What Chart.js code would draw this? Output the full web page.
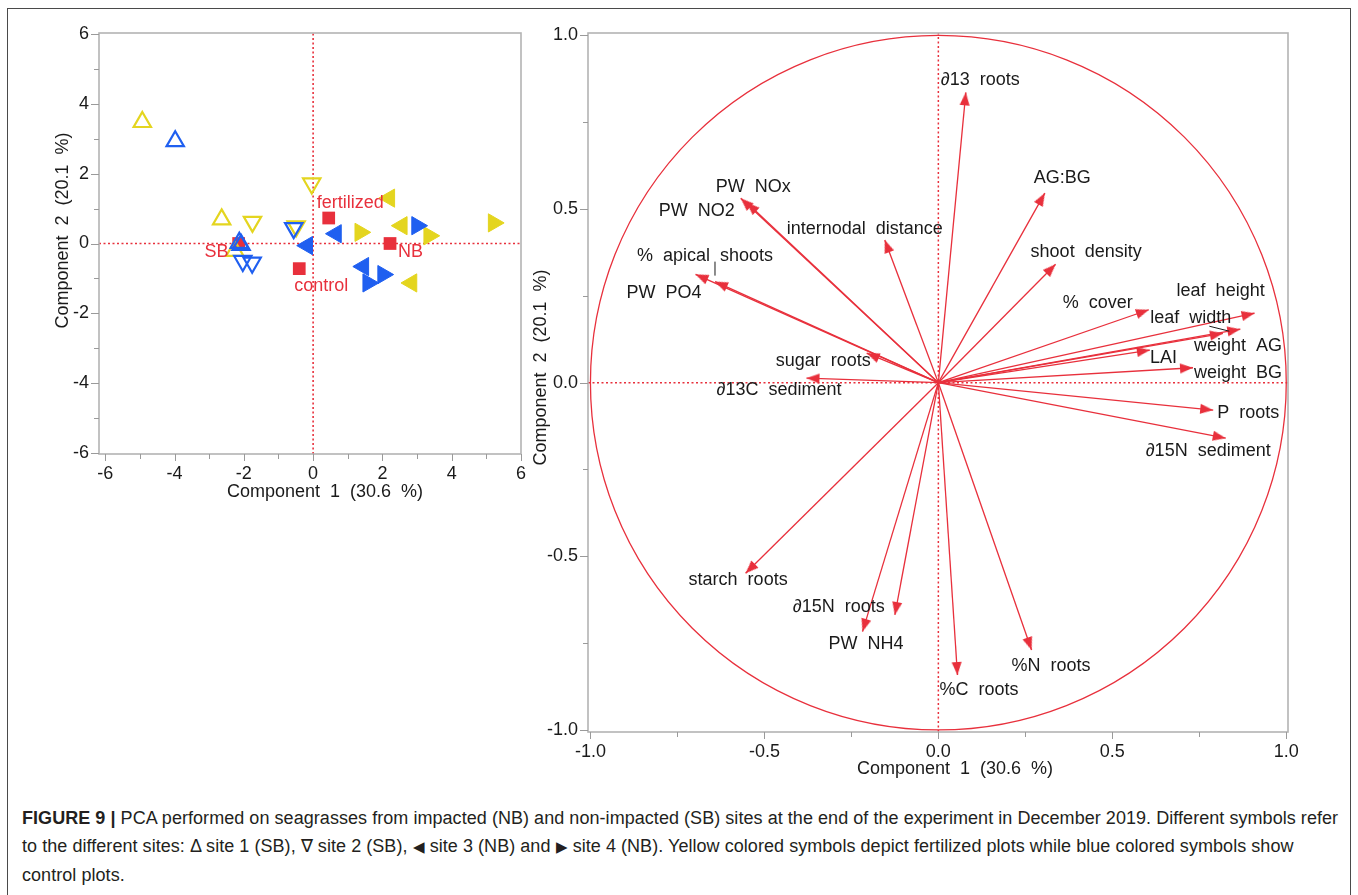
<!DOCTYPE html>
<html>
<head>
<meta charset="utf-8">
<script src="https://cdn.jsdelivr.net/npm/chart.js@4.4.1/dist/chart.umd.min.js"></script>
<style>
  body { margin: 0; background: #fff; width: 1358px; height: 895px; overflow: hidden;
         font-family: "Liberation Sans", Arial, sans-serif; }
  #frame { position: absolute; left: 7px; top: 8px; width: 1342px; height: 920px; border: 1.5px solid #4a4a4a; }
  #scoreCanvas { position: absolute; left: 0; top: 0; }
  #loadCanvas { position: absolute; left: 530px; top: 0; }
  #caption { position: absolute; left: 22px; top: 804px; font-size: 18px; line-height: 28px;
             color: #231f20; white-space: nowrap; letter-spacing: 0.05px; }
  #caption .sym { font-size: 15px; }
</style>
</head>
<body>
<div id="frame"></div>
<canvas id="scoreCanvas" width="540" height="510"></canvas>
<canvas id="loadCanvas" width="800" height="800"></canvas>
<div id="caption">
  <div><b>FIGURE 9 |</b> PCA performed on seagrasses from impacted (NB) and non-impacted (SB) sites at the end of the experiment in December 2019. Different symbols refer</div>
  <div>to the different sites: Δ site 1 (SB), ∇ site 2 (SB), <span class="sym">◀</span> site 3 (NB) and <span class="sym">▶</span> site 4 (NB). Yellow colored symbols depict fertilized plots while blue colored symbols show</div>
  <div>control plots.</div>
</div>
<script>
// ---- score plot (left): [component 1, component 2]
const site1Fert = [[-4.93, 3.48], [-2.64, 0.69], [-2.26, -0.21]];
const site1Ctrl = [[-3.98, 2.93], [-2.08, -0.04], [-2.13, 0.02]];
const site2Fert = [[-1.75, 0.62], [-0.49, 0.49], [-0.04, 1.72]];
const site2Ctrl = [[-2.03, -0.50], [-1.76, -0.55], [-0.56, 0.44]];
const site3Fert = [[2.20, 1.30], [2.56, 0.51], [2.84, -1.13]];
const site3Ctrl = [[-0.17, -0.06], [0.66, 0.28], [1.45, -0.66]];
const site4Fert = [[1.36, 0.32], [3.35, 0.22], [5.21, 0.59]];
const site4Ctrl = [[3.00, 0.51], [2.02, -0.89], [1.59, -1.13]];

const centroidNames = ['SB', 'control', 'fertilized', 'NB'];
const centroidX = [-2.15, -0.40, 0.45, 2.22];
const centroidY = [0.0, -0.72, 0.73, 0.0];

const scoreTicks = [-6, -4, -2, 0, 2, 4, 6];
const scoreMinor = [-5, -3, -1, 1, 3, 5];

// ---- loading plot (right)
const loadingNames = ['∂13 roots', 'AG:BG', 'PW NOx', 'PW NO2', 'internodal distance',
  '% apical shoots', 'PW PO4', 'sugar roots', '∂13C sediment', 'shoot density', '% cover',
  'leaf height', 'leaf width', 'weight AG', 'LAI', 'weight BG', 'P roots', '∂15N sediment',
  '%N roots', '%C roots', 'starch roots', '∂15N roots', 'PW NH4'];
const loadingPC1 = [0.079, 0.306, -0.568, -0.551, -0.154, -0.642, -0.698, -0.206, -0.379,
  0.337, 0.605, 0.909, 0.868, 0.818, 0.608, 0.732, 0.790, 0.826, 0.268, 0.055, -0.554, -0.125, -0.218];
const loadingPC2 = [0.836, 0.546, 0.531, 0.519, 0.411, 0.291, 0.312, 0.085, 0.013,
  0.341, 0.210, 0.200, 0.154, 0.142, 0.094, 0.043, -0.079, -0.160, -0.770, -0.842, -0.549, -0.669, -0.717];

const loadTicks = [-1, -0.5, 0, 0.5, 1];
const loadMinor = [-0.75, -0.25, 0.25, 0.75];

// ---- styling
const FONT = '"Liberation Sans", Arial, sans-serif';
const RED = '#e8303c', YELLOW = '#e4d51f', BLUE = '#1f5ff0', INK = '#1a1a1a';
const FRAME = '#b3b3b3';

// label placement relative to each arrow tip (px): [dx, dy]
const loadLabelOffsets = [[-25, -12], [-11, -15], [-25, -11], [-88, 9], [-98, -11],
  [-78, -26], [-69, 19], [-91, 8], [-90, 12], [-25, -12], [-86, -7],
  [-78, -22], [-90, -11], [-29, 13], [0, 8], [1, 5], [4, 3], [-80, 13],
  [-20, 16], [-18, 15], [-57, 7], [-102, -8], [-34, 12]];
// short leader lines [name, x1, y1, x2, y2] relative to the tip
const leaders = [['% apical shoots', 0, -20, 0, -6], ['leaf width', -31, -3, -11, 2]];
// centroid label [dx, dy, align]
const centroidLabelPos = [[-10, 9, 'right'], [-5, 17, 'left'], [-12, -15, 'left'], [8, 9, 'left']];

const pts = arr => arr.map(p => ({x: p[0], y: p[1]}));

function ticksFor(values) {
  return s => { s.ticks = values.map(v => ({value: v})); };
}

const decor = {
  id: 'decor',
  beforeDatasetsDraw(chart, args, o) {
    if (!o.circle) return;
    const {ctx, scales: {x, y}} = chart;
    const cx = x.getPixelForValue(0), cy = y.getPixelForValue(0);
    ctx.save();
    ctx.strokeStyle = RED;
    ctx.lineWidth = 1.3;
    ctx.beginPath();
    ctx.ellipse(cx, cy, x.getPixelForValue(1) - cx, cy - y.getPixelForValue(1), 0, 0, Math.PI * 2);
    ctx.stroke();
    ctx.restore();
  },
  afterDraw(chart, args, o) {
    const {ctx, chartArea: a, scales: {x, y}} = chart;
    ctx.save();
    ctx.strokeStyle = FRAME;
    ctx.lineWidth = 1.6;
    ctx.strokeRect(a.left, a.top, a.right - a.left, a.bottom - a.top);
    ctx.strokeStyle = '#9a9a9a';
    ctx.lineWidth = 1;
    const tick = (vals, len) => {
      vals.forEach(v => {
        const px = Math.round(x.getPixelForValue(v)) + 0.5;
        ctx.beginPath(); ctx.moveTo(px, a.bottom); ctx.lineTo(px, a.bottom + len); ctx.stroke();
      });
    };
    const ytick = (vals, len) => {
      vals.forEach(v => {
        const py = Math.round(y.getPixelForValue(v)) + 0.5;
        ctx.beginPath(); ctx.moveTo(a.left, py); ctx.lineTo(a.left - len, py); ctx.stroke();
      });
    };
    tick(o.xMajor, 7); tick(o.xMinor, 5);
    ytick(o.yMajor, 8); ytick(o.yMinor, 5);

    ctx.fillStyle = INK;
    ctx.font = '18px ' + FONT;
    ctx.textAlign = 'center';
    ctx.textBaseline = 'middle';
    ctx.fillText(o.xTitle, (a.left + a.right) / 2 + o.xTitleAt[0], a.bottom + o.xTitleAt[1]);
    ctx.translate(a.left + o.yTitleAt[0], (a.top + a.bottom) / 2 + o.yTitleAt[1]);
    ctx.rotate(-Math.PI / 2);
    ctx.fillText(o.yTitle, 0, 0);
    ctx.restore();
  }
};

const tickFont = {family: FONT, size: 18};

function axes(xr, yr, yWidth, xHeight, fmt, xMajor, yMajor) {
  return {
    x: {
      type: 'linear', min: xr[0], max: xr[1],
      grid: {display: false, drawTicks: false}, border: {display: false},
      afterBuildTicks: ticksFor(xMajor),
      afterFit: s => { s.height = xHeight; },
      ticks: {font: tickFont, color: INK, padding: 9, maxRotation: 0, autoSkip: false, callback: fmt}
    },
    y: {
      type: 'linear', min: yr[0], max: yr[1],
      grid: {display: false, drawTicks: false}, border: {display: false},
      afterBuildTicks: ticksFor(yMajor),
      afterFit: s => { s.width = yWidth; },
      ticks: {font: tickFont, color: INK, padding: 10, autoSkip: false, callback: fmt}
    }
  };
}

// ---------- left: scores
function triSet(data, color, rot, filled, order) {
  return {
    data: pts(data), pointStyle: 'triangle', rotation: rot,
    pointRadius: filled ? 10.5 : 10,
    backgroundColor: filled ? color : 'rgba(0,0,0,0)',
    borderColor: color, borderWidth: filled ? 1 : 2.2, order: order
  };
}

const scoreLabels = {
  id: 'scoreLabels',
  afterDatasetsDraw(chart) {
    const {ctx, scales: {x, y}} = chart;
    ctx.save();
    ctx.fillStyle = RED;
    ctx.font = '18px ' + FONT;
    ctx.textBaseline = 'middle';
    centroidNames.forEach((n, i) => {
      const p = centroidLabelPos[i];
      ctx.textAlign = p[2];
      ctx.fillText(n, x.getPixelForValue(centroidX[i]) + p[0], y.getPixelForValue(centroidY[i]) + p[1]);
    });
    ctx.restore();
  }
};

new Chart(document.getElementById('scoreCanvas'), {
  type: 'scatter',
  data: {
    datasets: [
      {type: 'line', data: [{x: -6.18, y: 0}, {x: 6, y: 0}], borderColor: RED, borderWidth: 1.6,
       borderDash: [2, 2.5], pointRadius: 0, order: 20},
      {type: 'line', data: [{x: 0, y: -6.03}, {x: 0, y: 6.03}], borderColor: RED, borderWidth: 1.6,
       borderDash: [2, 2.5], pointRadius: 0, order: 20},
      {data: centroidX.map((v, i) => ({x: v, y: centroidY[i]})), pointStyle: 'rect', pointRadius: 9,
       backgroundColor: RED, borderColor: RED, borderWidth: 0, order: 10},
      triSet(site1Fert, YELLOW, 0, false, 8),
      triSet(site1Ctrl, BLUE, 0, false, 7),
      triSet(site2Fert, YELLOW, 180, false, 6),
      triSet(site2Ctrl, BLUE, 180, false, 5),
      triSet(site3Fert, YELLOW, 270, true, 4),
      triSet(site3Ctrl, BLUE, 270, true, 3),
      triSet(site4Fert, YELLOW, 90, true, 2),
      triSet(site4Ctrl, BLUE, 90, true, 1)
    ]
  },
  options: {
    responsive: false, animation: false,
    layout: {padding: {top: 33, right: 19, left: 0, bottom: 0}},
    plugins: {
      legend: {display: false}, tooltip: {enabled: false},
      decor: {
        xMajor: scoreTicks, xMinor: scoreMinor, yMajor: scoreTicks, yMinor: scoreMinor,
        xTitle: 'Component  1  (30.6  %)', xTitleAt: [15, 38],
        yTitle: 'Component  2  (20.1  %)', yTitleAt: [-36, -13]
      }
    },
    scales: axes([-6.18, 6.0], [-6.03, 6.03], 99, 56, v => String(v), scoreTicks, scoreTicks)
  },
  plugins: [decor, scoreLabels]
});

// ---------- right: loadings
const arrowHead = document.createElement('canvas');
arrowHead.width = 28; arrowHead.height = 28;
(function () {
  const c = arrowHead.getContext('2d');
  c.fillStyle = RED;
  c.beginPath();
  c.moveTo(14, 14); c.lineTo(19, 27); c.lineTo(9, 27);
  c.closePath();
  c.fill();
})();

const shafts = loadingNames.map((n, i) => ({
  type: 'line', data: [{x: 0, y: 0}, {x: loadingPC1[i], y: loadingPC2[i]}],
  borderColor: RED, borderWidth: 1.3, pointRadius: 0, order: 5
}));

const loadLabels = {
  id: 'loadLabels',
  afterDatasetsDraw(chart) {
    const {ctx, scales: {x, y}} = chart;
    ctx.save();
    ctx.fillStyle = INK;
    ctx.strokeStyle = INK;
    ctx.lineWidth = 1;
    ctx.font = '18px ' + FONT;
    if ('wordSpacing' in ctx) ctx.wordSpacing = '5px';
    ctx.textAlign = 'left';
    ctx.textBaseline = 'middle';
    loadingNames.forEach((n, i) => {
      const px = x.getPixelForValue(loadingPC1[i]), py = y.getPixelForValue(loadingPC2[i]);
      const off = loadLabelOffsets[i];
      ctx.fillText(n, px + off[0], py + off[1]);
      leaders.filter(l => l[0] === n).forEach(l => {
        ctx.beginPath(); ctx.moveTo(px + l[1], py + l[2]); ctx.lineTo(px + l[3], py + l[4]); ctx.stroke();
      });
    });
    ctx.restore();
  }
};

new Chart(document.getElementById('loadCanvas'), {
  type: 'scatter',
  data: {
    datasets: [
      {type: 'line', data: [{x: -1.007, y: 0}, {x: 1.005, y: 0}], borderColor: RED, borderWidth: 1.5,
       borderDash: [2, 2.5], pointRadius: 0, order: 20},
      {type: 'line', data: [{x: 0, y: -1.006}, {x: 0, y: 1.007}], borderColor: RED, borderWidth: 1.5,
       borderDash: [2, 2.5], pointRadius: 0, order: 20},
      ...shafts,
      {
        data: loadingPC1.map((v, i) => ({x: v, y: loadingPC2[i]})),
        pointStyle: arrowHead, pointRadius: 6, order: 1,
        rotation: c => {
          const p = c.raw;
          if (!p) return 0;
          const sx = c.chart.scales.x, sy = c.chart.scales.y;
          const dx = sx.getPixelForValue(p.x) - sx.getPixelForValue(0);
          const dy = sy.getPixelForValue(p.y) - sy.getPixelForValue(0);
          return Math.atan2(dx, -dy) * 180 / Math.PI;
        }
      }
    ]
  },
  options: {
    responsive: false, animation: false,
    layout: {padding: {top: 33, right: 42, left: 0, bottom: 0}},
    plugins: {
      legend: {display: false}, tooltip: {enabled: false},
      decor: {
        circle: true,
        xMajor: loadTicks, xMinor: loadMinor, yMajor: loadTicks, yMinor: loadMinor,
        xTitle: 'Component  1  (30.6  %)', xTitleAt: [17, 37],
        yTitle: 'Component  2  (20.1  %)', yTitleAt: [-47, -15]
      }
    },
    scales: axes([-1.007, 1.005], [-1.006, 1.007], 58, 68, v => v.toFixed(1), loadTicks, loadTicks)
  },
  plugins: [decor, loadLabels]
});
</script>
</body>
</html>
